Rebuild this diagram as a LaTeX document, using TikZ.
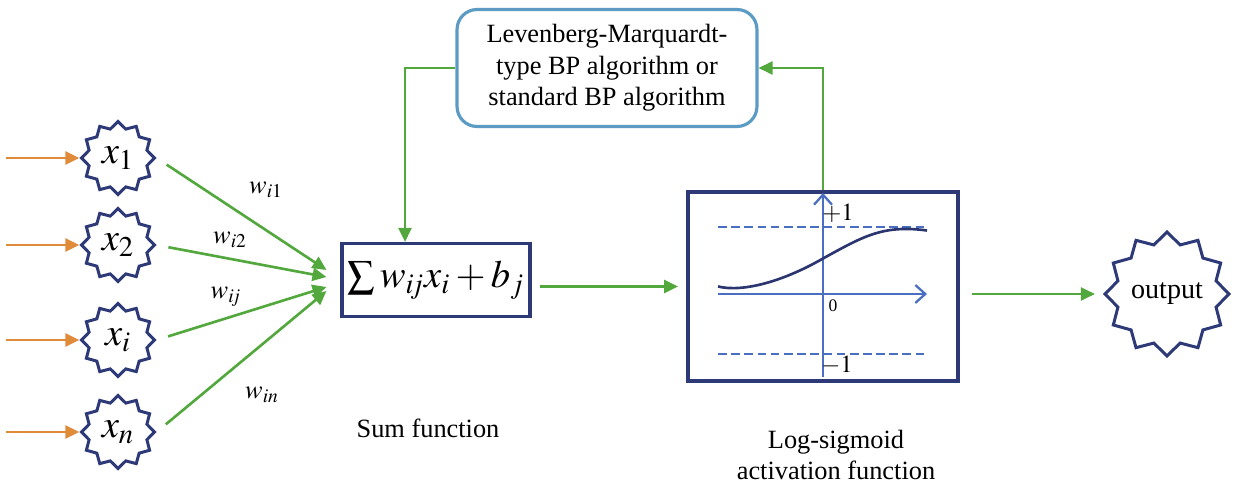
\documentclass[tikz,border=0pt]{standalone}
\usepackage{mathptmx}
\usepackage{fontspec}
\setmainfont{Liberation Serif}
\usetikzlibrary{
  arrows.meta,
  positioning,
  calc,
  shapes.geometric,
}
\definecolor{navy}{HTML}{2E3A78}
\definecolor{wiregreen}{HTML}{52A83D}
\definecolor{inorange}{HTML}{DF8B3A}
\definecolor{lmblue}{HTML}{5B9BC4}
\definecolor{axisblue}{HTML}{4A6FC0}
\definecolor{curvenavy}{HTML}{2B3570}
\tikzset{
  >={Triangle[length=0.28cm,width=0.26cm]},
  font=\fontsize{15}{18}\selectfont,
  neuron/.style={
    star,
    star points=12,
    star point ratio=1.22,
    draw=navy,
    line width=1.7pt,
    fill=white,
    inner sep=0pt,
    minimum size=#1,
  },
  bignum/.style={font=\fontsize{22}{26}\selectfont},
  sumbox/.style={
    draw=navy,
    line width=1.8pt,
    minimum width=3.64cm,
    minimum height=1.46cm,
    font=\fontsize{22}{26}\selectfont,
  },
  algbox/.style={
    draw=lmblue,
    line width=1.8pt,
    rounded corners=0.4cm,
    minimum width=6cm,
    minimum height=2.34cm,
    align=center,
  },
  actbox/.style={
    draw=navy,
    line width=2.2pt,
    minimum width=5.4cm,
    minimum height=3.78cm,
  },
  wire/.style={draw=wiregreen, line width=1.5pt, ->},
  inarrow/.style={draw=inorange, line width=1.5pt, ->},
  axis/.style={draw=axisblue, line width=1.3pt, -{Straight Barb[length=0.2cm,width=0.36cm]}},
  levelline/.style={draw=axisblue, line width=1.3pt, dash pattern=on 5pt off 2.5pt},
  curve/.style={draw=curvenavy, line width=1.5pt},
  wlabel/.style={font=\fontsize{15}{18}\selectfont},
}

\begin{document}
\begin{tikzpicture}[x=0.02cm,y=0.02cm]
  \useasboundingbox (0,0) rectangle (1235,491);

  % inputs
  \foreach \name/\y/\lab in {x1/333/x_1, x2/246/x_2, xi/151/x_i, xn/59/x_n} {
    \node[neuron=1.46cm, bignum] (\name) at (118,\y) {$\lab$};
    \draw[inarrow] ([xshift=-1.46cm]\name.west) -- (\name.west);
  }

  % sum function
  \node[sumbox] (sum) at (436,211) {$\textstyle\sum w_{i\mkern-2mu j}x_i+b_j$};
  \node (sumlab) at (428,63) {Sum function};

  % weighted connections
  \foreach \name/\dy in {x1/0.20cm, x2/0.06cm, xi/-0.14cm, xn/-0.22cm} {
    \draw[wire, shorten <=0.24cm] (\name.east) -- ([xshift=-0.28cm,yshift=\dy]sum.west);
  }
  \node[wlabel] (wi1) at (266,301) {$w_{i1}$};
  \node[wlabel] (wi2) at (230,251) {$w_{i2}$};
  \node[wlabel] (wij) at (226,194) {$w_{i\mkern-2mu j}$};
  \node[wlabel] (win) at (262,96) {$w_{in}$};

  % training algorithm
  \node[algbox] (lm) at (607,423) {Levenberg-Marquardt-\\type BP algorithm or\\standard BP algorithm};

  % activation
  \node[actbox] (act) at (823,204.5) {};
  \node[align=center] (actlab) at (836,36) {Log-sigmoid\\activation function};
  \begin{scope}[shift={(act.center)}]
    \draw[levelline] (-105,59.5) -- (104,59.5);
    \draw[levelline] (-105,-67.5) -- (104,-67.5);
    \draw[axis] (-105,-7.5) -- (104,-7.5);
    \draw[axis] (0,-90.5) -- (0,93.5);
    \draw[curve] (-105,0) .. controls (-80,-6) and (-40,5) .. (0,28)
      .. controls (40,50) and (60,62) .. (104,56);
    \node[font=\fontsize{14}{16}\selectfont] (plus) at (15,73.5) {$+1$};
    \node[font=\fontsize{10}{12}\selectfont] (zero) at (10,-19.5) {0};
    \node[font=\fontsize{14}{16}\selectfont] (minus) at (14,-78.5) {$-1$};
  \end{scope}

  % output
  \node[neuron=2.1cm, font=\fontsize{16}{19}\selectfont] (out) at (1167,197) {output};

  % forward and feedback paths
  \draw[wire, shorten <=0.16cm, shorten >=0.16cm] (sum.east |- act.west) -- (act.west);
  \draw[wire, shorten <=0.24cm, shorten >=0.16cm] (act.east |- out.west) -- (out.west);
  \draw[wire] (lm.west) -| ([xshift=-0.62cm]sum.north);
  \draw[wire] (act.north) |- (lm.east);
\end{tikzpicture}
\end{document}
